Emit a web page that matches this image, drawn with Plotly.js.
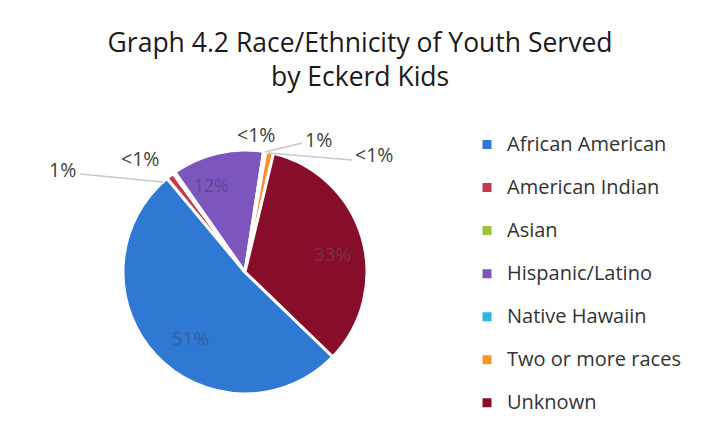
<!DOCTYPE html>
<html>
<head>
<meta charset="utf-8">
<script src="https://cdn.plot.ly/plotly-3.0.1.min.js"></script>
<style>html,body{margin:0;padding:0;background:#fff;}#chart{width:713px;height:442px;}</style>
</head>
<body>
<div id="chart"></div>
<script>
// Data
var categories = ['African American', 'American Indian', 'Asian', 'Hispanic/Latino', 'Native Hawaiin', 'Two or more races', 'Unknown'];
var values = [51, 1, 0.3, 12, 0.3, 1, 33];
var sliceLabels = ['51%', '1%', '<1%', '12%', '<1%', '1%', '33%'];
var colors = ['#2f78d4', '#c23a52', '#9fc23c', '#7c55bd', '#2fb3dd', '#f7922e', '#870d2b'];
var labelColors = ['#34609e', '#404040', '#404040', '#5b4a92', '#404040', '#404040', '#7a3343'];
// labels drawn outside the pie (small slices), as printed in the reference
var outsideLabels = ['1%', '<1%', '<1%', '1%', '<1%'];

var NB = '&nbsp;';
function pad(n) { var s = ''; for (var i = 0; i < n; i++) s += NB; return s; }
// inside labels only for the large slices; padding nudges them where the reference prints them
var insideText = sliceLabels.map(function (t, i) {
  if (values[i] < 5) return '';
  if (i === 0) return NB + '<br>' + NB + '<br>' + t + pad(4);
  if (i === 3) return t + pad(6);
  if (i === 6) return pad(10) + t;
  return t;
});

var trace = {
  type: 'pie',
  values: values,
  text: insideText,
  textinfo: 'text',
  textposition: 'inside',
  insidetextorientation: 'horizontal',
  insidetextfont: {family: '"Open Sans", sans-serif', size: 19, color: labelColors},
  sort: false,
  direction: 'clockwise',
  rotation: 134,
  marker: {colors: colors, line: {color: '#ffffff', width: 3}},
  domain: {x: [123 / 713, 367 / 713], y: [1 - 394 / 442, 1 - 150 / 442]},
  hoverinfo: 'text'
};

var annPos = [
  {x: 62, y: 169, ax: 80, ay: 174, bx: 163, by: 182, line: true},
  {x: 140, y: 158, line: false},
  {x: 256, y: 134, line: false},
  {x: 318, y: 139, ax: 302, ay: 143, bx: 265, by: 152, line: true},
  {x: 374, y: 154, ax: 352, ay: 160, bx: 268, by: 153, line: true}
];
var annotations = outsideLabels.map(function (t, i) {
  var p = annPos[i];
  return {
    xref: 'paper', yref: 'paper', x: p.x / 713, y: 1 - p.y / 442,
    xanchor: 'center', yanchor: 'middle',
    text: t, showarrow: false,
    font: {family: '"Open Sans", sans-serif', size: 19.5, color: '#404040'}
  };
});
var shapes = annPos.filter(function (p) { return p.line; }).map(function (p) {
  return {type: 'line', xref: 'paper', yref: 'paper',
    x0: p.ax / 713, y0: 1 - p.ay / 442, x1: p.bx / 713, y1: 1 - p.by / 442,
    line: {color: '#c8c8c8', width: 1.5}};
});

// legend labels: 20px text, with an empty second line to give the reference's row spacing
trace.labels = categories.map(function (c) {
  return '<span style="font-size:20px">' + c + '</span><br>' + NB;
});

var layout = {
  width: 713, height: 442,
  margin: {l: 0, r: 0, t: 0, b: 0},
  paper_bgcolor: '#ffffff',
  font: {family: '"Open Sans", sans-serif', color: '#404040'},
  title: {
    text: 'Graph 4.2 Race/Ethnicity of Youth Served<br>by Eckerd Kids',
    font: {family: '"Open Sans", sans-serif', size: 26.5, color: '#1a1a1a'},
    x: 0.505, xanchor: 'center', xref: 'paper',
    y: 1 - 52 / 442, yanchor: 'top', yref: 'container'
  },
  showlegend: true,
  legend: {
    x: 467 / 713, xanchor: 'left', y: 1 - 128 / 442, yanchor: 'top',
    font: {family: '"Open Sans", sans-serif', size: 15.4, color: '#333333'},
    valign: 'top',
    bgcolor: 'rgba(0,0,0,0)', traceorder: 'normal'
  },
  annotations: annotations,
  shapes: shapes
};

Plotly.newPlot('chart', [trace], layout, {displayModeBar: false, staticPlot: true});
</script>
</body>
</html>
